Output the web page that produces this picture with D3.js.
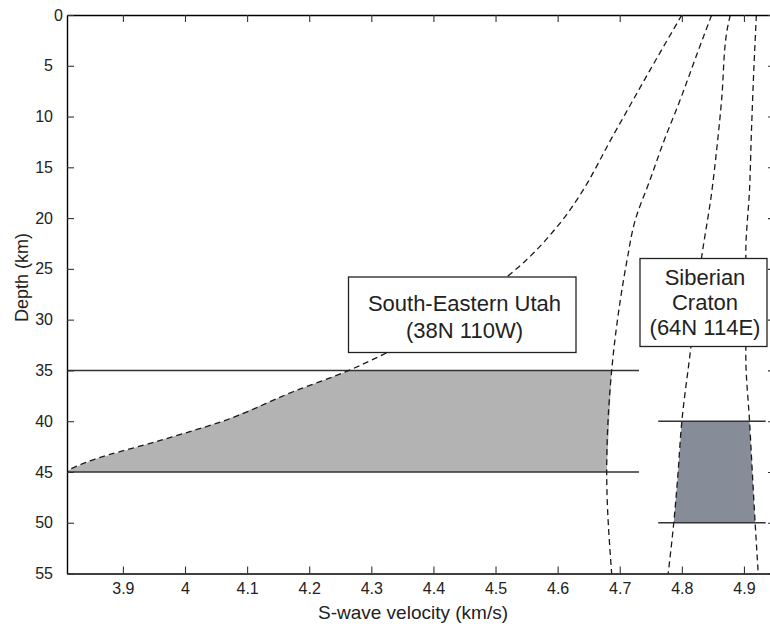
<!DOCTYPE html>
<html>
<head>
<meta charset="utf-8">
<script src="https://cdn.jsdelivr.net/npm/d3@7"></script>
<style>
  html, body { margin: 0; padding: 0; background: #fff; }
  svg { display: block; font-family: "Liberation Sans", Arial, sans-serif; }
  .tick text { font-family: "Liberation Sans", Arial, sans-serif; font-size: 16px; fill: #222; }
</style>
</head>
<body>
<svg id="chart" width="770" height="627"></svg>
<script>
// ---- data ----
const xTicks = [3.9, 4.0, 4.1, 4.2, 4.3, 4.4, 4.5, 4.6, 4.7, 4.8, 4.9];
const yTicks = [0, 5, 10, 15, 20, 25, 30, 35, 40, 45, 50, 55];

// Utah profile, left (slow) bound
const utahLowVel   = [4.800, 4.749, 4.690, 4.631, 4.609, 4.593, 4.550, 4.518, 4.317, 4.260, 4.174, 4.061, 3.960, 3.852, 3.805];
const utahLowDepth = [0,     5.4,   11.8,  18.2,  20.1,  21.3,  24.1,  25.8,  33.5,  35.1,  37.1,  40.0,  41.9,  43.8,  45.0];
// Utah profile, right (fast) bound
const utahHighVel   = [4.848, 4.828, 4.797, 4.770, 4.749, 4.725, 4.711, 4.698, 4.687, 4.679, 4.687];
const utahHighDepth = [0,     3.25,  8.4,   12.6,  16.2,  20.2,  24.4,  29.3,  35,    45,    55];
// Siberian profile, left bound
const sibLowVel   = [4.878, 4.872, 4.864, 4.856, 4.848, 4.832, 4.813, 4.800, 4.793, 4.787, 4.778];
const sibLowDepth = [0,     1.8,   8.4,   13.3,  17.5,  23.8,  33.5,  40,    45.8,  50,    55];
// Siberian profile, right bound
const sibHighVel   = [4.920, 4.915, 4.912, 4.909, 4.903, 4.903, 4.909, 4.918, 4.923];
const sibHighDepth = [0,     6.7,   11.6,  17.2,  23.4,  33.6,  40,    50,    55];

// depth bands (Moho ranges) and their horizontal extents
const utahBand = [35, 45];
const utahBandVel = [3.81, 4.731];
const sibBand = [40, 50];
const sibBandVel = [4.762, 4.935];

const utahLabel = ["South-Eastern Utah", "(38N 110W)"];
const sibLabel = ["Siberian", "Craton", "(64N 114E)"];

// ---- layout ----
const svg = d3.select("#chart");
const mLeft = 67, mRight = 775, mTop = 15, mBottom = 573.5;

const x = d3.scaleLinear().domain([3.81, 4.95]).range([mLeft, mRight]);
const y = d3.scaleLinear().domain([0, 55]).range([mTop, mBottom]);

svg.append("defs").append("clipPath").attr("id", "plotclip")
  .append("rect").attr("x", mLeft).attr("y", mTop)
  .attr("width", mRight - mLeft).attr("height", mBottom - mTop);

const plot = svg.append("g").attr("clip-path", "url(#plotclip)");

function interp(V, D, d) {
  for (let i = 0; i < D.length - 1; i++) {
    if (d >= D[i] && d <= D[i + 1]) {
      const t = (d - D[i]) / (D[i + 1] - D[i]);
      return V[i] + t * (V[i + 1] - V[i]);
    }
  }
  return d < D[0] ? V[0] : V[V.length - 1];
}
function boundary(V, D, d0, d1) {
  const pts = [[interp(V, D, d0), d0]];
  D.forEach((d, i) => { if (d > d0 && d < d1) pts.push([V[i], d]); });
  pts.push([interp(V, D, d1), d1]);
  return pts;
}
function band(lv, ld, rv, rd, d0, d1) {
  const l = boundary(lv, ld, d0, d1);
  const r = boundary(rv, rd, d0, d1).reverse();
  return l.concat(r);
}
const poly = d3.line().x(p => x(p[0])).y(p => y(p[1]));

// fills
plot.append("path")
  .attr("d", poly(band(utahLowVel, utahLowDepth, utahHighVel, utahHighDepth, utahBand[0], utahBand[1])) + "Z")
  .attr("fill", "#b3b3b3");
plot.append("path")
  .attr("d", poly(band(sibLowVel, sibLowDepth, sibHighVel, sibHighDepth, sibBand[0], sibBand[1])) + "Z")
  .attr("fill", "#878c99");

// band lines
utahBand.forEach(d => {
  plot.append("line").attr("x1", x(utahBandVel[0])).attr("x2", x(utahBandVel[1]))
    .attr("y1", y(d)).attr("y2", y(d)).attr("stroke", "#333").attr("stroke-width", 1.5);
});
sibBand.forEach(d => {
  plot.append("line").attr("x1", x(sibBandVel[0])).attr("x2", x(sibBandVel[1]))
    .attr("y1", y(d)).attr("y2", y(d)).attr("stroke", "#333").attr("stroke-width", 1.5);
});

// dashed profiles
const prof = d3.line().x(d => x(d[0])).y(d => y(d[1])).curve(d3.curveMonotoneY);
[[utahLowVel, utahLowDepth], [utahHighVel, utahHighDepth], [sibLowVel, sibLowDepth], [sibHighVel, sibHighDepth]]
  .forEach(([V, D]) => {
    plot.append("path").attr("d", prof(V.map((v, i) => [v, D[i]])))
      .attr("fill", "none").attr("stroke", "#1a1a1a").attr("stroke-width", 1.3)
      .attr("stroke-dasharray", "6,4");
  });

// label boxes
function labelBox(x0, y0, x1, y1, cx, lines, baselines) {
  svg.append("rect").attr("x", x0).attr("y", y0).attr("width", x1 - x0).attr("height", y1 - y0)
    .attr("fill", "#fff").attr("stroke", "#222").attr("stroke-width", 1.3);
  lines.forEach((t, i) => {
    svg.append("text").attr("x", cx).attr("y", baselines[i]).attr("text-anchor", "middle")
      .attr("font-size", 22).attr("fill", "#222").text(t);
  });
}
labelBox(348.5, 277, 576, 352.5, 464.5, utahLabel, [311, 338]);
labelBox(640, 258.5, 767, 346.5, 705, sibLabel, [285, 310, 335]);

// axes
const fmt = d => String(+d.toFixed(1));
const gx = svg.append("g").attr("transform", `translate(0,${mBottom})`)
  .call(d3.axisBottom(x).tickValues(xTicks).tickFormat(fmt).tickSizeInner(-7).tickSizeOuter(0).tickPadding(9));
const gxt = svg.append("g").attr("transform", `translate(0,${mTop})`)
  .call(d3.axisTop(x).tickValues(xTicks).tickFormat("").tickSizeInner(-7).tickSizeOuter(0));
const gy = svg.append("g").attr("transform", `translate(${mLeft},0)`)
  .call(d3.axisLeft(y).tickValues(yTicks).tickFormat(d3.format("d")).tickSizeInner(-7).tickSizeOuter(0).tickPadding(14));
const gyr = svg.append("g").attr("transform", `translate(${mRight},0)`)
  .call(d3.axisRight(y).tickValues(yTicks).tickFormat("").tickSizeInner(-7).tickSizeOuter(0));

[gx, gxt, gy, gyr].forEach(g => {
  g.attr("font-size", 16).attr("font-family", "Liberation Sans, Arial, sans-serif");
  g.select(".domain").attr("stroke", "#000").attr("stroke-width", 1.4);
  g.selectAll(".tick line").attr("stroke", "#333").attr("stroke-width", 1.1);
});
// the "0" depth label sits closer to the corner
gy.selectAll(".tick text").filter(d => d === 0).attr("dx", 10);

// axis titles
svg.append("text").attr("x", 413).attr("y", 619).attr("text-anchor", "middle")
  .attr("font-size", 19).attr("fill", "#222").text("S-wave velocity (km/s)");
svg.append("text").attr("transform", "translate(28,277.5) rotate(-90)").attr("text-anchor", "middle")
  .attr("font-size", 18).attr("fill", "#222").text("Depth (km)");
</script>
</body>
</html>
